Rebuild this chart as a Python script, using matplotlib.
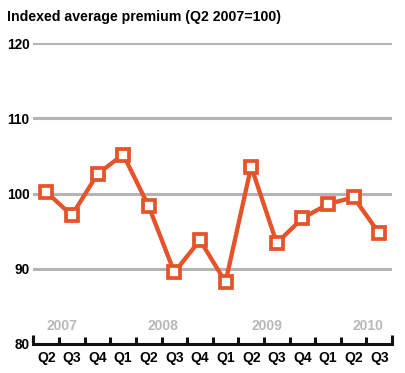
import matplotlib
matplotlib.use("Agg")
import matplotlib.pyplot as plt

quarters = ["Q2", "Q3", "Q4", "Q1", "Q2", "Q3", "Q4", "Q1", "Q2", "Q3", "Q4", "Q1", "Q2", "Q3"]
premium = [100.2, 97.1, 102.6, 105.2, 98.3, 89.5, 93.8, 88.2, 103.6, 93.4, 96.7, 98.6, 99.5, 94.7]
years = ["2007", "2008", "2009", "2010"]
year_pos = [0.6, 4.55, 8.6, 12.55]
yticks = [80, 90, 100, 110, 120]
title = "Indexed average premium (Q2 2007=100)"

ORANGE = "#E5532A"
GRID = "#b4b4b4"
FONT = "Liberation Sans"

fig = plt.figure(figsize=(4.06, 3.73), dpi=100)
ax = fig.add_axes([0.0825, 0.0786, 0.883, 0.805])

x = list(range(len(premium)))
ax.plot(x, premium, color=ORANGE, lw=3.1, marker="s", ms=8.3, mew=2.7,
        mfc="white", mec=ORANGE, zorder=3, clip_on=False)

ax.set_xlim(-0.5, len(premium) - 0.5)
ax.set_ylim(80, 120)

for s in ["top", "right", "left"]:
    ax.spines[s].set_visible(False)
ax.spines["bottom"].set_color("#111111")
ax.spines["bottom"].set_linewidth(2.2)

ax.set_yticks(yticks)
ax.set_yticklabels([str(v) for v in yticks], fontfamily=FONT, fontweight="bold", fontsize=9.8)
ax.tick_params(axis="y", length=0, pad=3)
for v in yticks[1:]:
    ax.axhline(v, color=GRID, lw=2.2, zorder=1)

ax.set_xticks(x)
ax.set_xticklabels(quarters, fontfamily=FONT, fontweight="bold", fontsize=10)
ax.tick_params(axis="x", which="major", length=0, pad=5.5)
bounds = [i - 0.5 for i in range(len(premium) + 1)]
ax.set_xticks(bounds[1:-1], minor=True)
ax.tick_params(axis="x", which="minor", direction="in", length=5, width=2.2, color="#111111")
ax.vlines([bounds[0], bounds[-1]], 80, 81.1, color="#111111", lw=2.2, clip_on=False)

for yr, p in zip(years, year_pos):
    ax.text(p, 82.3, yr, ha="center", va="center", color="#b8b8b8",
            fontfamily=FONT, fontweight="bold", fontsize=10)

fig.text(7 / 406, 1 - 17 / 373, title, ha="left", va="center",
         fontfamily=FONT, fontweight="bold", fontsize=10.2)

fig.savefig("out.png", dpi=100)
